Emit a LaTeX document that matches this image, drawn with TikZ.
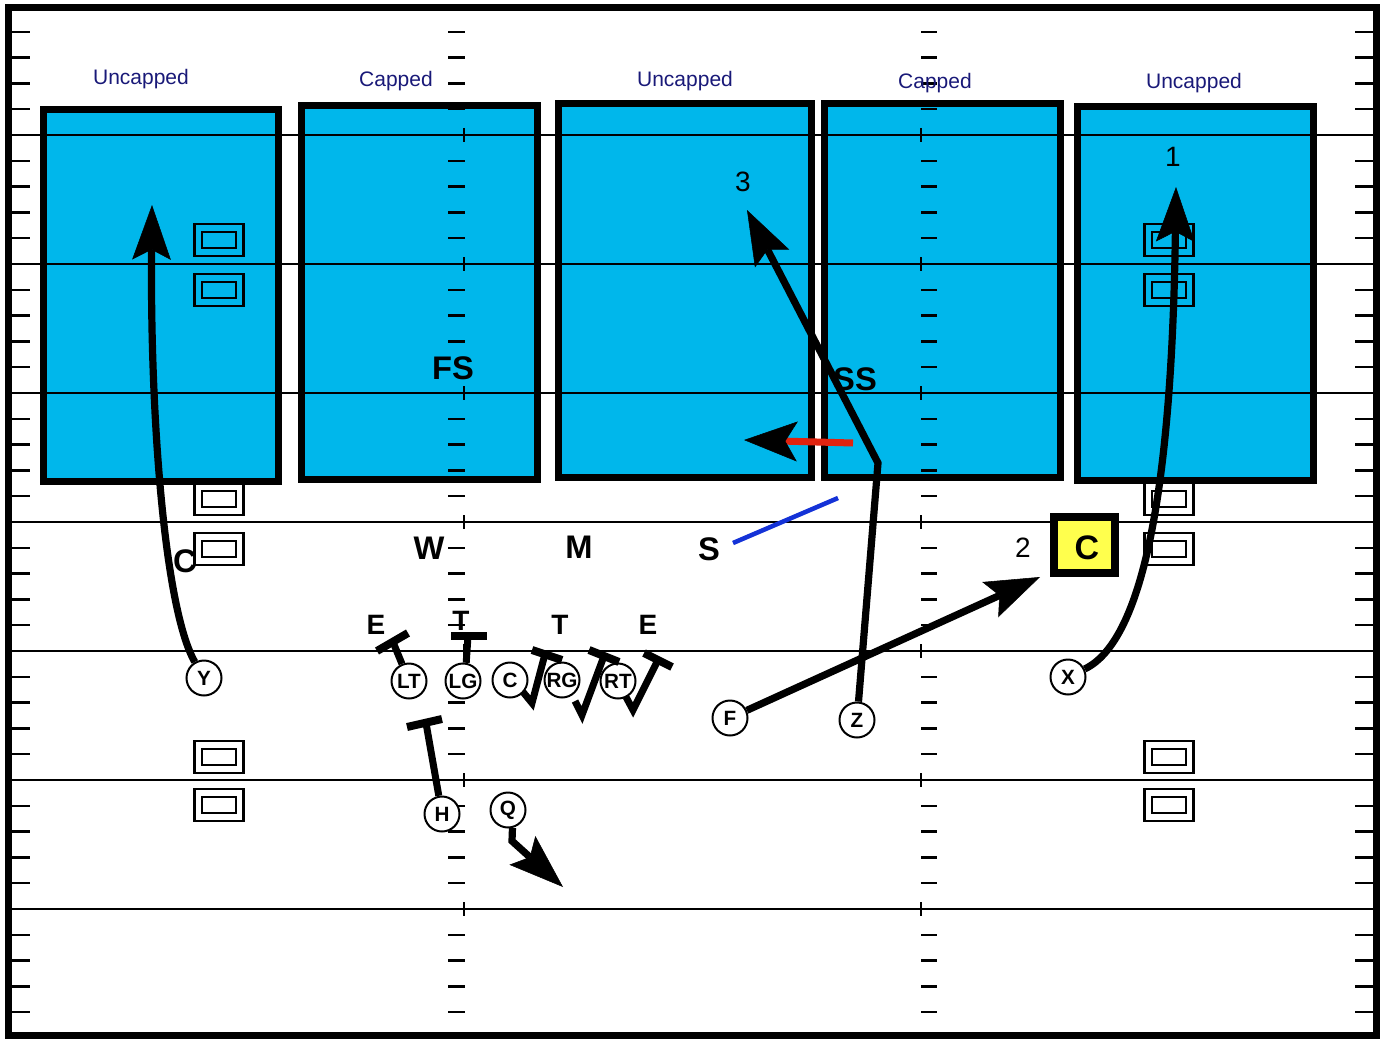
\documentclass[tikz,border=0pt]{standalone}
\usepackage{fontspec}
\setmainfont{Liberation Sans}
\usetikzlibrary{arrows.meta}
\definecolor{zonefill}{RGB}{0,183,235}
\definecolor{capnavy}{RGB}{25,25,120}
\definecolor{routered}{RGB}{225,35,15}
\definecolor{routeblue}{RGB}{20,50,215}
\definecolor{capyellow}{RGB}{255,255,77}
\begin{document}
\begin{tikzpicture}[x=0.75pt,y=-0.75pt,
  >={Stealth[length=41pt,width=29pt,inset=7.5pt,line width=0.4pt]},
  zone/.style={draw=black,fill=zonefill,line width=5.25pt},
  yardline/.style={draw=black,line width=1.8pt},
  tick/.style={draw=black,line width=1.9pt},
  dbl/.style={draw=black,line width=1.8pt},
  zonelabel/.style={anchor=base,text=capnavy,inner sep=0pt,font=\fontsize{15.75}{18}\selectfont},
  deflabel/.style={inner sep=0pt,font=\bfseries\fontsize{24.5}{26}\selectfont},
  dlsmall/.style={inner sep=0pt,font=\bfseries\fontsize{21}{23}\selectfont},
  numlabel/.style={inner sep=0pt,font=\fontsize{21}{23}\selectfont},
  player/.style={circle,draw=black,line width=1.5pt,fill=white,minimum size=26.25pt,inner sep=0pt,font=\bfseries\fontsize{15.5}{16}\selectfont},
  route/.style={draw=black,line width=5.4pt,->},
  block/.style={draw=black,line width=5.25pt},
  blockbar/.style={draw=black,line width=6pt},
  capbox/.style={draw=black,fill=capyellow,line width=5.6pt,minimum width=45.75pt,minimum height=42pt,inner sep=0pt},
  captext/.style={inner sep=0pt,font=\bfseries\fontsize{25.5}{27}\selectfont}
]
\useasboundingbox (0,0) rectangle (1380,1038);
% zones
\draw[zone] (43.5,109.5) rectangle (278.5,481.5);
\draw[zone] (301.5,105.5) rectangle (537.5,479.5);
\draw[zone] (558.5,103.5) rectangle (811,477);
\draw[zone] (824.5,103.5) rectangle (1060.5,477);
\draw[zone] (1077.5,107) rectangle (1313,480.5);
% yard lines and hash crosses
\foreach \y in {135,264,393,522,651,780,909} {
  \draw[yardline] (12,\y) -- (1373,\y);
  \draw[tick] (464,{\y-7}) -- (464,{\y+7});
  \draw[tick] (921,{\y-7}) -- (921,{\y+7});
}
% ticks
\foreach \i in {-1,...,6} {
  \foreach \j in {1,...,4} {
    \pgfmathsetmacro\ty{135+129*\i+25.8*\j}
    \draw[tick] (12,\ty) -- (30,\ty);
    \draw[tick] (1355,\ty) -- (1373,\ty);
    \draw[tick] (448,\ty) -- (465,\ty);
    \draw[tick] (921,\ty) -- (937,\ty);
  }
}
% number boxes
\foreach \x in {219,1169} {
  \foreach \y in {240,290,499,549,757,805} {
    \draw[dbl] ({\x-24.5},{\y-16}) rectangle ({\x+24.5},{\y+16});
    \draw[dbl] ({\x-17},{\y-8}) rectangle ({\x+17},{\y+8});
  }
}
% border
\draw[line width=5.25pt] (8.5,7.5) rectangle (1376,1035.5);
% zone labels
\node[zonelabel] (l1) at (141,85) {Uncapped};
\node[zonelabel] (l2) at (396,87) {Capped};
\node[zonelabel] (l3) at (685,87) {Uncapped};
\node[zonelabel] (l4) at (935,89) {Capped};
\node[zonelabel] (l5) at (1194,89) {Uncapped};
% defenders
\node[deflabel,fill=zonefill,inner sep=1pt] (fs) at (453,368) {FS};
\node[deflabel] (ss) at (855,379) {SS};
\node[deflabel] (w) at (429,548) {W};
\node[deflabel] (m) at (579,547) {M};
\node[deflabel] (s) at (709,549) {S};
\node[deflabel] (cb) at (185,561) {C};
\node[dlsmall] (e1) at (376,625) {E};
\node[dlsmall] (t1) at (461,621) {T};
\node[dlsmall] (t2) at (560,625) {T};
\node[dlsmall] (e2) at (648,625) {E};
\node[capbox] (cbox) at (1084.5,545) {};
\node[captext] (cboxtext) at (1087,547.5) {C};
% numbers
\node[numlabel] (n3) at (743,182) {3};
\node[numlabel] (n1) at (1173,157) {1};
\node[numlabel] (n2) at (1023,548) {2};
% players
\node[player] (Y) at (204,678) {Y};
\node[player] (LT) at (409,681) {LT};
\node[player] (LG) at (463,681) {LG};
\node[player] (C) at (510,680) {C};
\node[player] (RG) at (562,680) {RG};
\node[player] (RT) at (618,681) {RT};
\node[player] (F) at (730,718) {F};
\node[player] (Z) at (857,720) {Z};
\node[player] (X) at (1068,677) {X};
\node[player] (H) at (442,814) {H};
\node[player] (Q) at (508,810) {Q};
% route coordinates
\coordinate (ytip) at (152,205);
\coordinate (xtip) at (1176,187);
\coordinate (zbend) at (878,463);
\coordinate (ztip) at (747,210);
\coordinate (ftip) at (1040,577);
\coordinate (qbend) at (512,841);
\coordinate (qtip) at (563,887);
\coordinate (rs) at (853,443);
\coordinate (rtip) at (744,440);
\coordinate (bs) at (733,543);
\coordinate (be) at (838,498);
% routes
\draw[route] (Y) .. controls (165,610) and (150,420) .. (ytip);
\draw[route] (X) .. controls (1145,640) and (1172,480) .. (xtip);
\draw[route] (Z) -- (zbend) -- (ztip);
\draw[route] (F) -- (ftip);
\draw[route] (Q.-76) -- (qbend) -- (qtip);
\draw[draw=routered,line width=5.25pt,-{Stealth[length=40pt,width=30pt,inset=9pt,line width=0.4pt,color=black]}] (rs) -- (rtip);
\draw[draw=routeblue,line width=3.4pt] (bs) -- (be);
% blocks
\coordinate (ltb) at (393,642);
\coordinate (lgb) at (468,636);
\coordinate (hb) at (426,723);
\draw[block] (LT) -- (ltb);
\draw[blockbar] (377,651) -- (408,633);
\draw[block] (LG.80) -- (lgb);
\draw[blockbar] (451,636) -- (487,636);
\draw[block] (H) -- (hb);
\draw[blockbar] (407,727) -- (442,719);
% pass sets
\draw[block] (523,692) -- (532,703) -- (545,654);
\draw[blockbar] (532,650) -- (562,660);
\draw[block] (575,701) -- (582,715) -- (604,656);
\draw[blockbar] (589,650) -- (619,662);
\draw[block] (626,697) -- (633,710) -- (658,660);
\draw[blockbar] (644,653) -- (672,667);
\end{tikzpicture}
\end{document}
